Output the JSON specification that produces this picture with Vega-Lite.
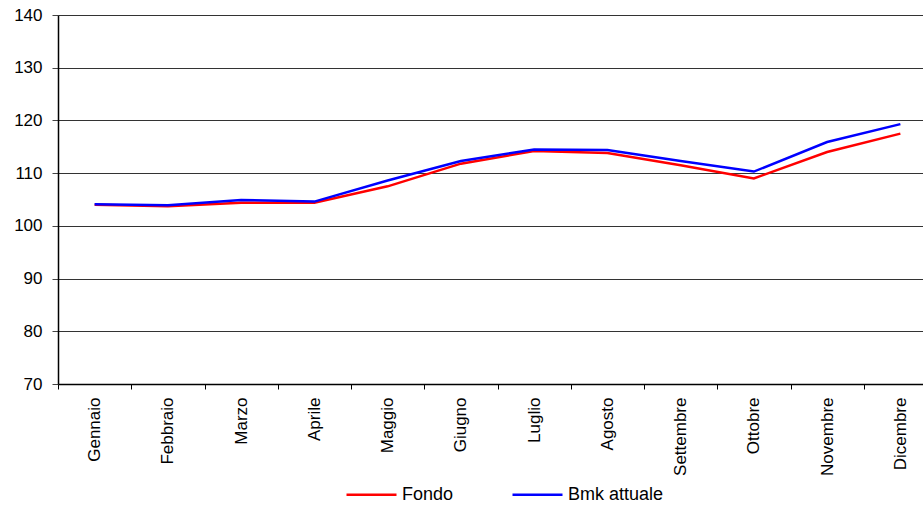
{
  "$schema": "https://vega.github.io/schema/vega-lite/v6.json",
  "width": 865,
  "height": 369,
  "autosize": {"type": "none"},
  "padding": {"left": 58, "top": 15, "right": 0, "bottom": 122},
  "background": "white",
  "config": {
    "view": {"stroke": null},
    "font": "Liberation Sans"
  },
  "data": {
    "values": [
      {"mese": "Gennaio", "serie": "Fondo", "valore": 104.0},
      {"mese": "Febbraio", "serie": "Fondo", "valore": 103.7},
      {"mese": "Marzo", "serie": "Fondo", "valore": 104.4},
      {"mese": "Aprile", "serie": "Fondo", "valore": 104.4},
      {"mese": "Maggio", "serie": "Fondo", "valore": 107.5},
      {"mese": "Giugno", "serie": "Fondo", "valore": 111.8},
      {"mese": "Luglio", "serie": "Fondo", "valore": 114.2},
      {"mese": "Agosto", "serie": "Fondo", "valore": 113.8},
      {"mese": "Settembre", "serie": "Fondo", "valore": 111.5},
      {"mese": "Ottobre", "serie": "Fondo", "valore": 109.0},
      {"mese": "Novembre", "serie": "Fondo", "valore": 114.0},
      {"mese": "Dicembre", "serie": "Fondo", "valore": 117.5},
      {"mese": "Gennaio", "serie": "Bmk attuale", "valore": 104.1},
      {"mese": "Febbraio", "serie": "Bmk attuale", "valore": 103.9},
      {"mese": "Marzo", "serie": "Bmk attuale", "valore": 104.9},
      {"mese": "Aprile", "serie": "Bmk attuale", "valore": 104.6},
      {"mese": "Maggio", "serie": "Bmk attuale", "valore": 108.6},
      {"mese": "Giugno", "serie": "Bmk attuale", "valore": 112.3},
      {"mese": "Luglio", "serie": "Bmk attuale", "valore": 114.5},
      {"mese": "Agosto", "serie": "Bmk attuale", "valore": 114.4},
      {"mese": "Settembre", "serie": "Bmk attuale", "valore": 112.3},
      {"mese": "Ottobre", "serie": "Bmk attuale", "valore": 110.3},
      {"mese": "Novembre", "serie": "Bmk attuale", "valore": 115.9},
      {"mese": "Dicembre", "serie": "Bmk attuale", "valore": 119.3}
    ]
  },
  "mark": {"type": "line", "strokeWidth": 2.5},
  "encoding": {
    "x": {
      "field": "mese",
      "type": "nominal",
      "sort": null,
      "bandPosition": 0.5,
      "scale": {"type": "band", "paddingInner": 0, "paddingOuter": 0, "range": [0, 879]},
      "axis": {
        "title": null,
        "labelAngle": -90,
        "labelFontSize": 17,
        "labelColor": "#000",
        "labelPadding": 8,
        "tickBand": "extent",
        "tickSize": 5,
        "tickColor": "#000",
        "domainColor": "#000",
        "domainWidth": 1.5,
        "grid": false
      }
    },
    "y": {
      "field": "valore",
      "type": "quantitative",
      "scale": {"domain": [70, 140], "nice": false, "zero": false},
      "axis": {
        "title": null,
        "values": [70, 80, 90, 100, 110, 120, 130, 140],
        "labelFontSize": 17,
        "labelColor": "#000",
        "labelPadding": 10,
        "tickSize": 6,
        "tickColor": "#444",
        "domainColor": "#000",
        "domainWidth": 1.5,
        "grid": true,
        "gridColor": "#333",
        "gridWidth": 1.2,
        "gridOpacity": 1
      }
    },
    "color": {
      "field": "serie",
      "type": "nominal",
      "sort": ["Fondo", "Bmk attuale"],
      "scale": {"domain": ["Fondo", "Bmk attuale"], "range": ["#ff0000", "#0000ff"]},
      "legend": {
        "title": null,
        "orient": "none",
        "direction": "horizontal",
        "legendX": 287,
        "legendY": 453,
        "padding": 0,
        "symbolType": "stroke",
        "symbolSize": 2500,
        "symbolStrokeWidth": 2.5,
        "labelFontSize": 18,
        "labelColor": "#000",
        "columnPadding": 53,
        "labelOffset": 4
      }
    }
  }
}
